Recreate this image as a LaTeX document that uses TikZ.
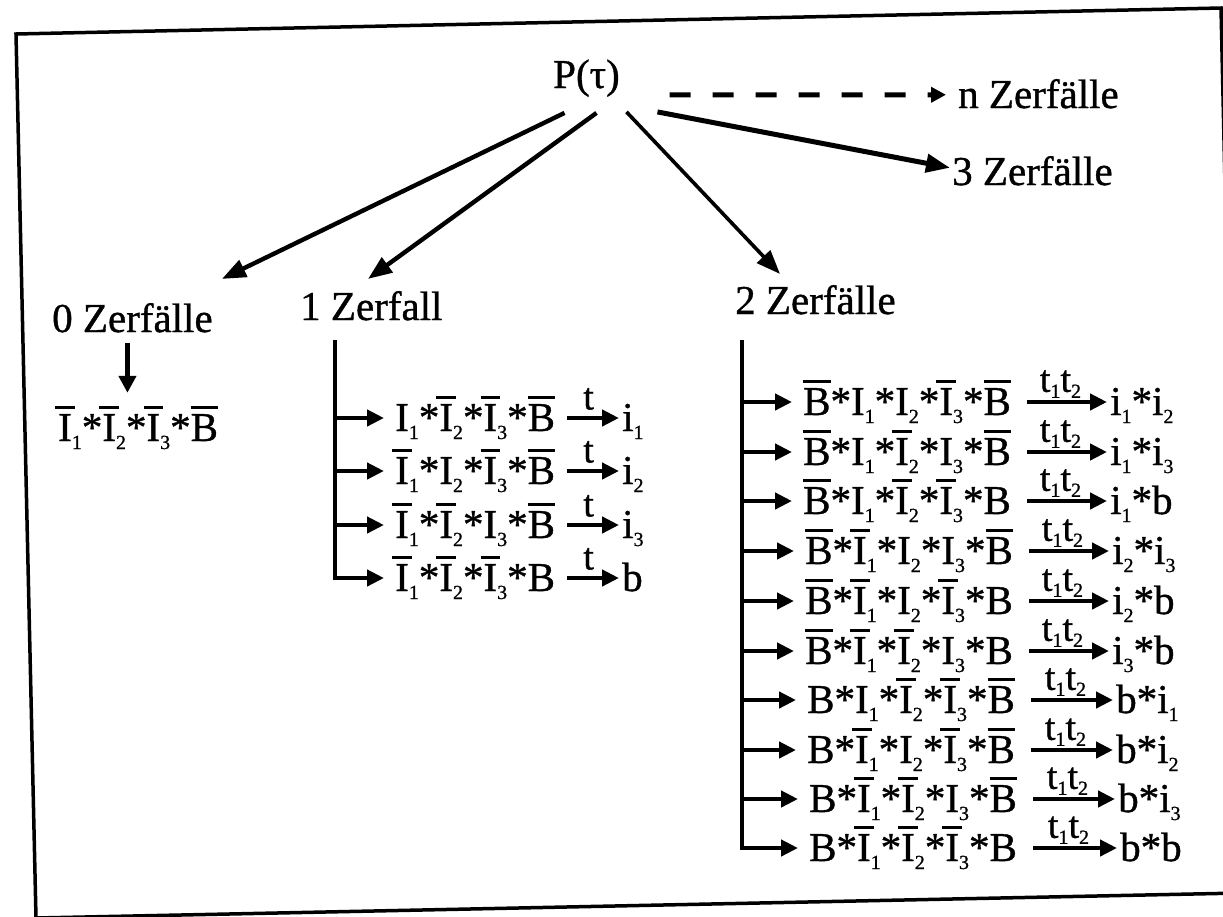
\documentclass[tikz,border=0pt]{standalone}
\usepackage{fontspec}
\setmainfont{Liberation Serif}[FakeBold=0.9]
\usetikzlibrary{arrows.meta}
\newcommand\sbs[1]{\raisebox{-8pt}{\fontsize{20}{20}\selectfont #1}}
\newcommand\ovl[2]{{\setbox0=\hbox{#2}\rlap{\kern-#1\raisebox{\dimexpr\ht0+5pt\relax}{\rule{\dimexpr\wd0+#1+#1\relax}{3.6pt}}}\box0}}
\newcommand\Iu[1]{I\sbs{#1}}
\newcommand\Io[1]{\ovl{3pt}{I}\sbs{#1}}
\newcommand\Bo{\ovl{0pt}{B}}
\newcommand\iu[1]{i\sbs{#1}}
\newcommand\ttl{t\raisebox{-6pt}{\fontsize{20}{20}\selectfont 1}t\raisebox{-6pt}{\fontsize{20}{20}\selectfont 2}}
\tikzset{
 txt/.style={inner sep=0pt, font=\fontsize{41}{44}\selectfont},
 frm/.style={txt, anchor=west, text height=38pt, text depth=12pt},
 parr/.style={line width=4.4pt, -{Triangle[length=24pt,width=18pt]}},
 dparr/.style={line width=5pt, dash pattern=on 21pt off 22pt, -{Triangle[length=15pt,width=15pt]}},
 rarr/.style={line width=4.4pt, -{Triangle[length=17pt,width=16pt]}, shorten >=11pt},
 tarr/.style={line width=4.4pt, -{Triangle[length=17pt,width=16pt]}, shorten <=16pt, shorten >=3pt},
 tlab/.style={inner sep=0pt, above=2pt, font=\fontsize{38}{38}\selectfont},
 tlabA/.style={inner sep=0pt, above=6pt, font=\fontsize{38}{38}\selectfont},
}
\begin{document}
\begin{tikzpicture}[x=1pt,y=-1pt]
\clip (0,0) rectangle (1223,916);
\fill[white] (0,0) rectangle (1223,916);
% frame
\draw[line width=3.5pt, line join=miter] (16,34) -- (1221,8) -- (1241,893) -- (36,918) -- cycle;

% header nodes
\node[txt, anchor=base west] (P) at (553,88) {P(τ)};
\node[txt, anchor=base west] (hn) at (958,108) {n Zerfälle};
\node[txt, anchor=base west] (h3) at (952,185) {3 Zerfälle};
\node[txt, anchor=base west] (h0) at (52,332) {0 Zerfälle};
\node[txt, anchor=base west] (h1) at (300,320) {1 Zerfall};
\node[txt, anchor=base west] (h2) at (735,314) {2 Zerfälle};

% arrows from P
\draw[parr] ([shift={(-22pt,-16pt)}]P.south) -- ([shift={(9pt,24pt)}]h0.north east);
\draw[parr] ([shift={(10pt,-16pt)}]P.south) -- ([shift={(68pt,12pt)}]h1.north west);
\draw[parr, line width=3.6pt] ([shift={(40pt,-15pt)}]P.south) -- ([shift={(45pt,11pt)}]h2.north west);
\draw[parr, line width=5pt] ([shift={(71pt,-15pt)}]P.south) -- ([shift={(-2pt,3pt)}]h3.west);
\draw[dparr] ([shift={(83pt,2pt)}]P.south) -- ([shift={(-12pt,-1pt)}]hn.west);

% 0 Zerfaelle
\node[frm] (f0) at (58,428) {\Io1*\Io2*\Io3*\Bo};
\coordinate (d0a) at ([xshift=-5pt,yshift=-10pt]h0.south);
\coordinate (d0b) at ([yshift=10pt]f0.north);
\draw[line width=4.4pt, -{Triangle[length=17pt,width=17pt]}] (d0a) -- (d0a |- d0b);

% 1 Zerfall
\coordinate (T1) at (335,340);
\node[frm] (f11) at (395,418) {\Iu1*\Io2*\Io3*\Bo};
\node[frm] (f12) at (395,471) {\Io1*\Iu2*\Io3*\Bo};
\node[frm] (f13) at (395,525) {\Io1*\Io2*\Iu3*\Bo};
\node[frm] (f14) at (395,578) {\Io1*\Io2*\Io3*B};
\node[frm] (r11) at (622,418) {\iu1};
\node[frm] (r12) at (622,471) {\iu2};
\node[frm] (r13) at (622,525) {\iu3};
\node[frm] (r14) at (622,578) {b};
\draw[rarr] (T1) |- (f14.west);
\draw[rarr] (T1 |- f11.west) -- (f11.west);
\draw[rarr] (T1 |- f12.west) -- (f12.west);
\draw[rarr] (T1 |- f13.west) -- (f13.west);
\draw[tarr, shorten <=12pt] (f11.east) -- node[tlabA]{t} (r11.west);
\draw[tarr, shorten <=12pt] (f12.east) -- node[tlabA]{t} (r12.west);
\draw[tarr, shorten <=12pt] (f13.east) -- node[tlabA]{t} (r13.west);
\draw[tarr, shorten <=12pt] (f14.east) -- node[tlabA]{t} (r14.west);

% 2 Zerfaelle
\coordinate (T2) at (742,340);
\node[frm] (f21) at (803,402) {\Bo*\Iu1*\Iu2*\Io3*\Bo};
\node[frm] (f22) at (803,452) {\Bo*\Iu1*\Io2*\Iu3*\Bo};
\node[frm] (f23) at (803,501) {\Bo*\Iu1*\Io2*\Io3*B};
\node[frm] (f24) at (805,551) {\Bo*\Io1*\Iu2*\Iu3*\Bo};
\node[frm] (f25) at (805,601) {\Bo*\Io1*\Iu2*\Io3*B};
\node[frm] (f26) at (805,651) {\Bo*\Io1*\Io2*\Iu3*B};
\node[frm] (f27) at (807,700) {B*\Iu1*\Io2*\Io3*\Bo};
\node[frm] (f28) at (807,750) {B*\Io1*\Iu2*\Io3*\Bo};
\node[frm] (f29) at (809,799) {B*\Io1*\Io2*\Iu3*\Bo};
\node[frm] (f210) at (809,848) {B*\Io1*\Io2*\Io3*B};
\node[frm] (r21) at (1110,402) {\iu1*\iu2};
\node[frm] (r22) at (1110,452) {\iu1*\iu3};
\node[frm] (r23) at (1110,501) {\iu1*b};
\node[frm] (r24) at (1112,551) {\iu2*\iu3};
\node[frm] (r25) at (1112,601) {\iu2*b};
\node[frm] (r26) at (1112,651) {\iu3*b};
\node[frm] (r27) at (1116,700) {b*\iu1};
\node[frm] (r28) at (1116,750) {b*\iu2};
\node[frm] (r29) at (1118,799) {b*\iu3};
\node[frm] (r210) at (1120,848) {b*b};
\draw[rarr] (T2) |- (f210.west);
\foreach \k in {1,...,9}{
  \draw[rarr] (T2 |- f2\k.west) -- (f2\k.west);
}
\foreach \k in {1,...,10}{
  \draw[tarr] (f2\k.east) -- node[tlab]{\ttl} (r2\k.west);
}
\end{tikzpicture}
\end{document}
